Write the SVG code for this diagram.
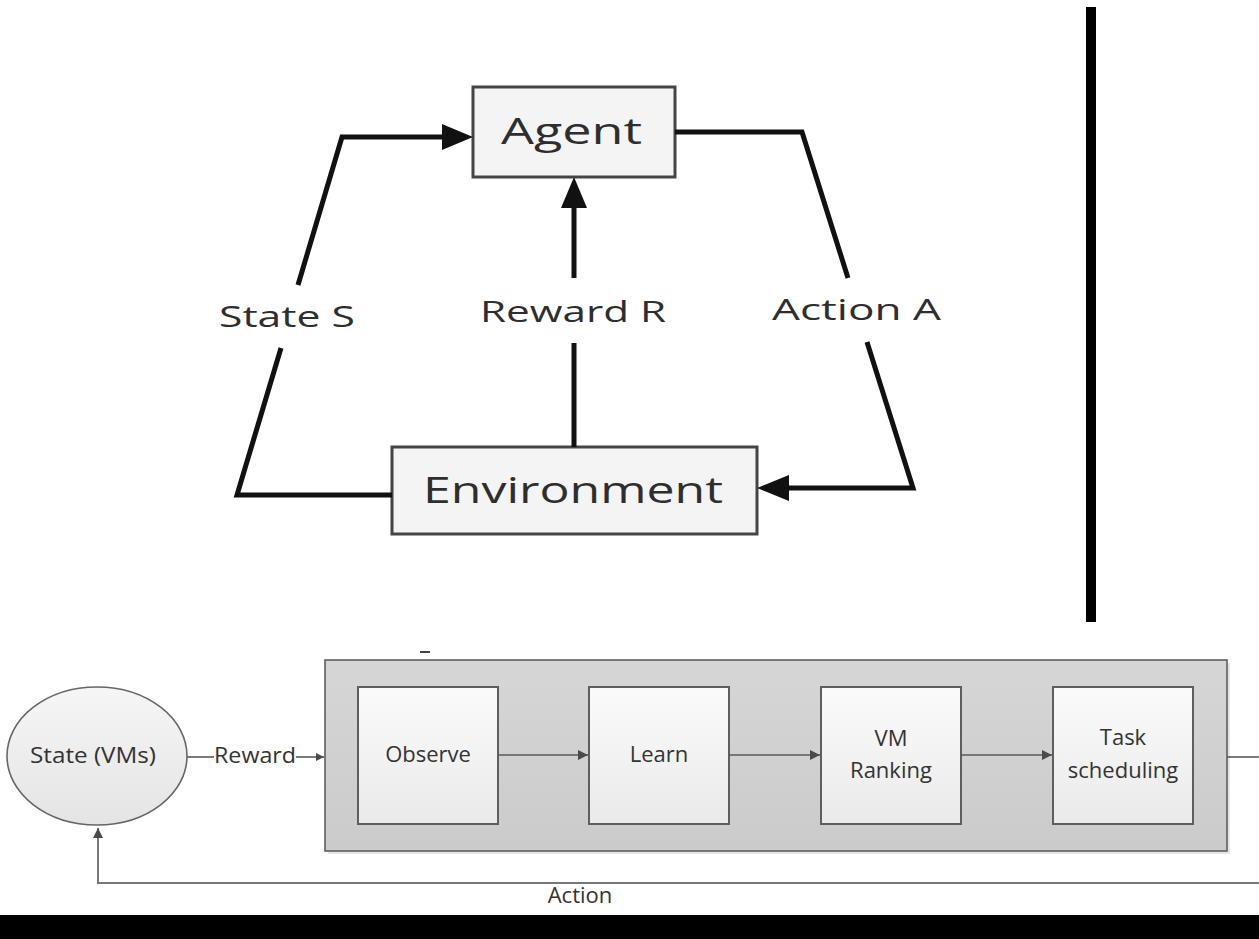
<svg xmlns="http://www.w3.org/2000/svg" width="1259" height="939" viewBox="0 0 1259 939">
  <defs>
    <style>
      .big-box { fill: #f4f4f4; stroke: #454545; stroke-width: 3; }
      .big-label { font-family: "Open Sans", "Noto Sans", sans-serif; fill: #2e2e2e; }
      .thick { fill: none; stroke: #111; stroke-width: 5; stroke-linejoin: miter; }
      .thick-head { fill: #111; }
      .stage { fill: url(#stageFill); stroke: #5e5e5e; stroke-width: 2; }
      .small-label { font-family: "Open Sans", "Noto Sans", sans-serif; font-size: 22px; fill: #333; text-anchor: middle; }
      .thin { fill: none; stroke: #5a5a5a; stroke-width: 1.6; }
    </style>
    <linearGradient id="stageFill" x1="0" y1="0" x2="0" y2="1">
      <stop offset="0" stop-color="#fbfbfb"/>
      <stop offset="1" stop-color="#eaeaea"/>
    </linearGradient>
    <linearGradient id="stateFill" x1="0" y1="0" x2="0" y2="1">
      <stop offset="0" stop-color="#f6f6f6"/>
      <stop offset="1" stop-color="#e4e4e4"/>
    </linearGradient>
    <linearGradient id="panelFill" x1="0" y1="0" x2="0" y2="1">
      <stop offset="0" stop-color="#d6d6d6"/>
      <stop offset="1" stop-color="#cbcbcb"/>
    </linearGradient>
    <marker id="smallArrow" viewBox="0 0 10 10" refX="10" refY="5" markerWidth="8" markerHeight="8" markerUnits="userSpaceOnUse" orient="auto">
      <path d="M0,0 L10,5 L0,10 z" fill="#4a4a4a"/>
    </marker>
    <marker id="midArrow" viewBox="0 0 10 10" refX="10" refY="5" markerWidth="12" markerHeight="10" markerUnits="userSpaceOnUse" orient="auto">
      <path d="M0,0 L10,5 L0,10 z" fill="#4a4a4a"/>
    </marker>
  </defs>

  <rect x="0" y="0" width="1259" height="939" fill="#ffffff"/>

  <!-- Agent / environment loop -->
  <g id="agent">
    <rect class="big-box" x="473" y="87" width="202" height="90"/>
    <text class="big-label" x="501" y="144" font-size="36" textLength="141" lengthAdjust="spacingAndGlyphs">Agent</text>
  </g>
  <g id="environment">
    <rect class="big-box" x="392" y="447" width="365" height="87"/>
    <text class="big-label" x="423" y="503" font-size="36" textLength="300" lengthAdjust="spacingAndGlyphs">Environment</text>
  </g>

  <g id="loop-connectors">
    <!-- state: environment to agent -->
    <polyline class="thick" points="392,495 237,495 281,348"/>
    <polyline class="thick" points="298,285 342,137 445,137"/>
    <polygon class="thick-head" points="473,137 442,124 442,150"/>
    <text class="big-label" x="219" y="327" font-size="30" textLength="136" lengthAdjust="spacingAndGlyphs">State S</text>

    <!-- reward: environment to agent -->
    <line class="thick" x1="574" y1="447" x2="574" y2="343"/>
    <line class="thick" x1="574" y1="278" x2="574" y2="205"/>
    <polygon class="thick-head" points="574,177 561,208 587,208"/>
    <text class="big-label" x="480" y="322" font-size="30" textLength="186" lengthAdjust="spacingAndGlyphs">Reward R</text>

    <!-- action: agent to environment -->
    <polyline class="thick" points="675,132 802,132 848,278"/>
    <polyline class="thick" points="867,342 913,488 786,488"/>
    <polygon class="thick-head" points="757,488 789,475 789,501"/>
    <text class="big-label" x="772" y="320" font-size="30" textLength="169" lengthAdjust="spacingAndGlyphs">Action A</text>
  </g>

  <!-- vertical separator -->
  <rect x="1086" y="7" width="10" height="615" fill="#000"/>

  <!-- scheduling pipeline -->
  <g id="state-vms">
    <ellipse cx="97" cy="756" rx="90" ry="69" fill="url(#stateFill)" stroke="#666" stroke-width="1.6"/>
    <text class="small-label" x="93" y="763" textLength="126" lengthAdjust="spacingAndGlyphs">State (VMs)</text>
  </g>

  <g id="agent-panel">
    <rect x="328" y="663" width="902" height="191" fill="#e6e6e6"/>
    <rect x="325" y="660" width="902" height="191" fill="url(#panelFill)" stroke="#5e5e5e" stroke-width="1.6"/>
  </g>
  <g id="observe">
    <rect class="stage" x="358" y="687" width="140" height="137"/>
    <text class="small-label" x="428" y="762">Observe</text>
  </g>
  <g id="learn">
    <rect class="stage" x="589" y="687" width="140" height="137"/>
    <text class="small-label" x="659" y="762">Learn</text>
  </g>
  <g id="vm-ranking">
    <rect class="stage" x="821" y="687" width="140" height="137"/>
    <text class="small-label" x="891" y="746">VM</text>
    <text class="small-label" x="891" y="778">Ranking</text>
  </g>
  <g id="task-scheduling">
    <rect class="stage" x="1053" y="687" width="140" height="137"/>
    <text class="small-label" x="1123" y="745">Task</text>
    <text class="small-label" x="1123" y="778">scheduling</text>
  </g>

  <g id="pipeline-connectors">
    <line class="thin" x1="187" y1="757" x2="214" y2="757"/>
    <text class="small-label" x="255" y="763" textLength="82" lengthAdjust="spacingAndGlyphs">Reward</text>
    <line class="thin" x1="296" y1="757" x2="324" y2="757" marker-end="url(#smallArrow)"/>
    <line class="thin" x1="498" y1="755" x2="588" y2="755" marker-end="url(#midArrow)"/>
    <line class="thin" x1="729" y1="755" x2="820" y2="755" marker-end="url(#midArrow)"/>
    <line class="thin" x1="961" y1="755" x2="1052" y2="755" marker-end="url(#midArrow)"/>
    <line class="thin" x1="1227" y1="757" x2="1259" y2="757"/>
    <polyline fill="none" stroke="#777" stroke-width="2" points="1259,883 98,883 98,828" marker-end="url(#midArrow)"/>
    <text class="small-label" x="580" y="903" font-size="20">Action</text>
  </g>

  <line x1="420" y1="652" x2="430" y2="652" stroke="#444" stroke-width="2"/>

  <!-- bottom band -->
  <rect x="0" y="915" width="1259" height="24" fill="#000"/>
</svg>
